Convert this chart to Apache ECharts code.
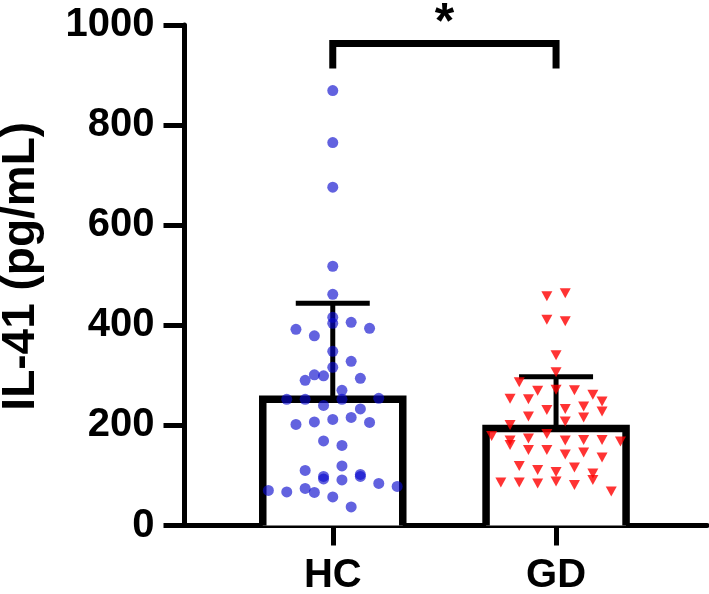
<!DOCTYPE html>
<html>
<head>
<meta charset="utf-8">
<script src="https://cdn.jsdelivr.net/npm/echarts@6/dist/echarts.min.js"></script>
<style>
  html, body { margin: 0; padding: 0; background: #fff; }
  #chart { width: 709px; height: 594px; }
</style>
</head>
<body>
<div id="chart"></div>
<script>
// ---- data ----
var categories = ['HC', 'GD'];
var yTicks = [0, 200, 400, 600, 800, 1000];
var groupMean = [252, 194];
var groupSD = [192, 103];

var hcValues = [869,765,676,518,462,416,404,406,392,394,379,348,328,316,301,299,290,294,270,252,252,252,254,240,233,216,202,207,212,206,169,160,119,110,98,93,91,102,98,84,78,70,67,74,66,57,37];
var hcSlots  = [0,0,0,0,0,0,0,2,-4,4,-2,0,2,0,-2,-1,-3,3,1,-5,-3,1,5,-1,3,2,-4,-2,0,4,-1,1,1,-3,-1,-1,1,3,3,5,7,-7,-5,-3,-2,0,2];

var gdValues = [458,464,411,408,340,306,286,269,271,270,261,253,252,248,231,233,238,228,218,208,216,201,179,170,161,174,183,170,171,171,168,151,151,142,146,136,119,111,107,116,104,91,86,86,84,88,81,68];
var gdSlots  = [-1,1,-1,1,0,0,-4,-2,0,2,4,-5,-3,5,-1,1,3,5,-3,1,3,-5,-7,-5,-5,-3,-1,1,3,5,7,-3,-1,1,3,5,-4,-2,0,2,4,4,-6,-4,-2,0,2,6];

var sigLabel = '*';

// ---- styling / layout constants ----
var FONT = '"Liberation Sans", Arial, Helvetica, sans-serif';
var SLOT_STEP = 0.0412;     // jitter column width in category units
var BAR_W = 140;            // px
var CAP_W = 74;             // px
var BRACKET_TOP = 963;      // axis units
var BRACKET_LEG = 913;      // axis units

function pts(cat, vals, slots) {
  return vals.map(function (v, i) { return [cat + slots[i] * SLOT_STEP, v]; });
}

var barData = categories.map(function (c, i) { return [i + 1, groupMean[i], groupSD[i]]; });

var chart = echarts.init(document.getElementById('chart'), null, { renderer: 'canvas' });

chart.setOption({
  animation: false,
  backgroundColor: '#ffffff',
  grid: { left: 184.5, right: 2, top: 25, bottom: 68.5, containLabel: false, outerBoundsMode: 'none' },
  xAxis: {
    type: 'value',
    min: 0.336,
    max: 2.676,
    splitLine: { show: false },
    axisLine: { show: true, onZero: false, lineStyle: { color: '#000', width: 5 } },
    axisTick: { show: true, customValues: [1, 2], length: 20, lineStyle: { color: '#000', width: 5 } },
    axisLabel: {
      show: true,
      customValues: [1, 2],
      formatter: function (v) { return categories[Math.round(v) - 1] || ''; },
      margin: 30,
      color: '#000',
      fontSize: 40,
      fontWeight: 'bold',
      fontFamily: FONT
    }
  },
  yAxis: {
    type: 'value',
    min: 0,
    max: 1000,
    interval: 200,
    name: 'IL-41 (pg/mL)',
    nameLocation: 'middle',
    nameRotate: 90,
    nameGap: 140,
    nameTextStyle: { color: '#000', fontSize: 46, fontWeight: 'bold', fontFamily: FONT, padding: [0, 0, 0, 18] },
    splitLine: { show: false },
    axisLine: { show: true, lineStyle: { color: '#000', width: 5 } },
    axisTick: { show: true, length: 21, lineStyle: { color: '#000', width: 5 } },
    axisLabel: {
      margin: 30,
      color: '#000',
      fontSize: 40,
      fontWeight: 'bold',
      fontFamily: FONT,
      formatter: function (v) { return yTicks.indexOf(v) >= 0 ? String(v) : ''; }
    }
  },
  series: [
    {
      type: 'custom',
      z: 2,
      clip: false,
      data: barData,
      renderItem: function (params, api) {
        var x = api.value(0), m = api.value(1), s = api.value(2);
        var base = api.coord([x, 0]);
        var top = api.coord([x, m]);
        var cap = api.coord([x, m + s]);
        var hw = BAR_W / 2, cw = CAP_W / 2;
        return {
          type: 'group',
          children: [
            { type: 'rect', shape: { x: base[0] - hw, y: top[1], width: BAR_W, height: base[1] - top[1] },
              style: { fill: '#fff', stroke: null } },
            { type: 'line', shape: { x1: base[0], y1: top[1], x2: base[0], y2: cap[1] },
              style: { stroke: '#000', lineWidth: 5 } },
            { type: 'line', shape: { x1: base[0] - cw, y1: cap[1], x2: base[0] + cw, y2: cap[1] },
              style: { stroke: '#000', lineWidth: 5 } },
            { type: 'polyline', shape: { points: [[base[0] - hw, base[1]], [base[0] - hw, top[1]], [base[0] + hw, top[1]], [base[0] + hw, base[1]]] },
              style: { stroke: '#000', lineWidth: 7.5, fill: null, lineJoin: 'miter' } }
          ]
        };
      }
    },
    {
      type: 'scatter',
      z: 3,
      data: pts(1, hcValues, hcSlots),
      symbol: 'circle',
      symbolSize: 11,
      itemStyle: { color: 'rgba(10,10,205,0.8)' }
    },
    {
      type: 'scatter',
      z: 3,
      data: pts(2, gdValues, gdSlots),
      symbol: 'triangle',
      symbolRotate: 180,
      symbolSize: [11, 10],
      itemStyle: { color: '#ff0000' }
    },
    {
      type: 'custom',
      z: 4,
      clip: false,
      data: [[1, 2]],
      renderItem: function (params, api) {
        var a = api.value(0), b = api.value(1);
        var p1 = api.coord([a, BRACKET_LEG]);
        var p2 = api.coord([a, BRACKET_TOP]);
        var p3 = api.coord([b, BRACKET_TOP]);
        var p4 = api.coord([b, BRACKET_LEG]);
        return {
          type: 'group',
          children: [
            { type: 'polyline', shape: { points: [p1, p2, p3, p4] },
              style: { stroke: '#000', lineWidth: 7, fill: null, lineJoin: 'miter' } },
            { type: 'text', x: (p2[0] + p3[0]) / 2, y: p2[1] - 19,
              style: { text: sigLabel, fill: '#000', font: 'bold 50px ' + FONT, align: 'center', verticalAlign: 'middle' } }
          ]
        };
      }
    }
  ]
});
</script>
</body>
</html>
